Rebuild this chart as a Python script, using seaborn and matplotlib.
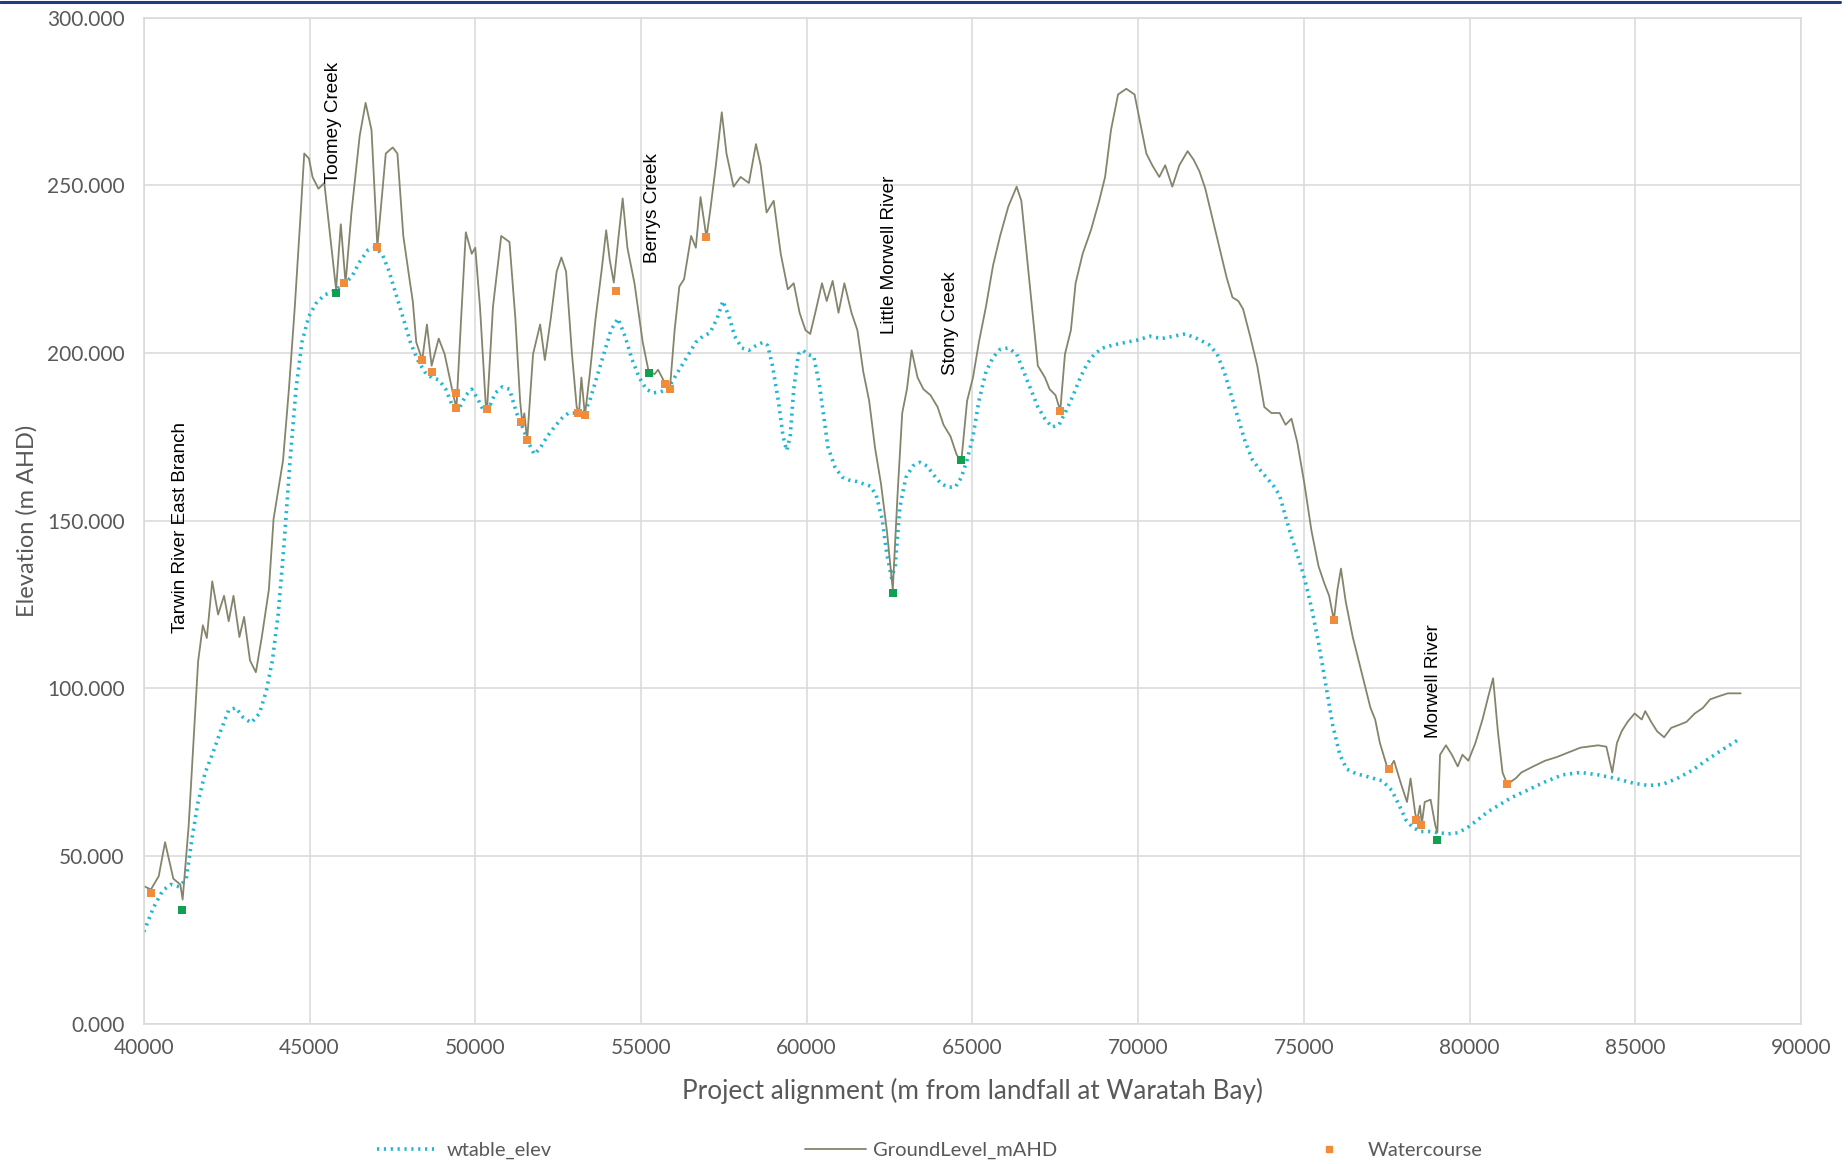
import numpy as np
import pandas as pd
import matplotlib
matplotlib.use("Agg")
import matplotlib.pyplot as plt
from matplotlib.lines import Line2D
import seaborn as sns

# Ground surface profile along the alignment (chainage m, elevation m AHD)
ground_chainage = [
    40000, 40213, 40450, 40640, 40890, 41100, 41170, 41352, 41637, 41780, 41900, 42064,
    42240, 42420, 42560, 42705, 42883, 43025, 43203, 43380, 43559, 43772, 43914, 44200,
    44377, 44555, 44733, 44840, 44982, 45089, 45267, 45445, 45623, 45800, 45943, 46086,
    46264, 46513, 46691, 46869, 47046, 47300, 47509, 47651, 47829, 48007, 48114, 48220,
    48399, 48541, 48683, 48897, 49075, 49324, 49431, 49573, 49715, 49893, 50000, 50142,
    50320, 50356, 50534, 50783, 51032, 51210, 51353, 51420, 51480, 51566, 51744, 51957,
    52100, 52278, 52456, 52598, 52740, 52918, 53060, 53130, 53202, 53309, 53452, 53630,
    53808, 53950, 54057, 54180, 54306, 54448, 54590, 54804, 55053, 55231, 55409, 55516,
    55730, 55872, 56015, 56157, 56300, 56513, 56655, 56797, 56975, 57082, 57260, 57438,
    57580, 57794, 58007, 58256, 58470, 58612, 58790, 59004, 59217, 59431, 59609, 59786,
    59964, 60107, 60285, 60462, 60605, 60783, 60960, 61138, 61352, 61530, 61708, 61886,
    62064, 62242, 62420, 62598, 62740, 62883, 63025, 63167, 63345, 63523, 63737, 63950,
    64128, 64341, 64520, 64662, 64840, 65018, 65196, 65409, 65623, 65836, 66085, 66335,
    66477, 66620, 66797, 66975, 67189, 67331, 67509, 67651, 67794, 67972, 68114, 68327,
    68576, 68826, 69004, 69182, 69395, 69644, 69893, 70071, 70249, 70427, 70640, 70818,
    71032, 71245, 71494, 71672, 71850, 72028, 72242, 72455, 72669, 72847, 73025, 73168,
    73381, 73595, 73808, 74022, 74271, 74449, 74627, 74805, 75018, 75231, 75445, 75623,
    75765, 75907, 76014, 76121, 76264, 76477, 76655, 76833, 77011, 77153, 77296, 77509,
    77580, 77722, 77936, 78114, 78221, 78363, 78420, 78505, 78560, 78648, 78826, 78968,
    79030, 79111, 79289, 79467, 79645, 79787, 79965, 80178, 80392, 80570, 80712, 80855,
    80997, 81139, 81388, 81566, 81922, 82278, 82634, 82990, 83346, 83880, 84129, 84307,
    84449, 84591, 84769, 84983, 85196, 85303, 85481, 85659, 85872, 86086, 86299, 86548,
    86797, 87046, 87260, 87545, 87794, 88185,
]
ground_level = [
    41.0, 40.0, 44.0, 54.1, 43.2, 41.5, 37.0, 59.0, 108.0, 118.8, 115.0, 131.9,
    122.0, 127.6, 120.0, 127.6, 115.3, 121.3, 108.3, 104.8, 115.3, 129.4, 150.5, 168.0,
    189.2, 213.8, 241.9, 259.5, 258.0, 252.5, 249.0, 250.7, 234.9, 219.0, 238.4, 220.8,
    241.9, 264.8, 274.6, 266.5, 231.7, 259.5, 261.3, 259.5, 234.9, 222.6, 215.5, 203.2,
    197.9, 208.5, 196.2, 204.3, 199.7, 188.1, 183.5, 210.3, 236.0, 229.6, 231.4, 213.8,
    183.9, 183.2, 213.8, 234.9, 233.1, 210.3, 185.7, 179.0, 182.0, 174.0, 199.7, 208.5,
    197.9, 210.3, 224.3, 228.5, 224.3, 199.7, 183.9, 182.0, 192.7, 181.4, 193.4, 210.3,
    224.3, 236.6, 227.8, 221.0, 233.1, 246.1, 231.4, 220.8, 203.2, 194.5, 193.7, 195.0,
    190.9, 189.2, 206.8, 219.8, 222.0, 234.9, 231.4, 246.5, 234.5, 241.9, 256.0, 271.8,
    259.5, 249.6, 252.5, 250.7, 262.3, 256.0, 241.9, 245.4, 229.6, 219.0, 220.8, 212.0,
    206.8, 205.7, 213.1, 220.8, 215.5, 221.5, 212.0, 220.8, 212.0, 206.8, 194.4, 185.7,
    171.6, 161.0, 147.0, 129.4, 157.5, 182.1, 189.2, 200.8, 192.7, 189.2, 187.4, 183.9,
    178.6, 175.1, 169.8, 167.4, 185.7, 192.7, 203.2, 213.8, 226.1, 234.9, 243.7, 249.6,
    245.4, 231.4, 213.8, 196.2, 192.7, 189.2, 187.4, 182.8, 199.7, 206.8, 220.8, 229.6,
    236.6, 245.4, 252.5, 266.5, 277.1, 278.8, 277.1, 268.3, 259.5, 256.0, 252.5, 256.0,
    249.6, 256.0, 260.2, 257.7, 254.2, 249.0, 240.2, 231.4, 222.6, 216.6, 215.5, 213.1,
    205.0, 196.2, 183.9, 182.1, 182.1, 178.6, 180.4, 173.3, 161.0, 147.0, 136.4, 131.2,
    127.6, 120.3, 129.4, 135.7, 125.9, 115.3, 108.3, 101.3, 94.2, 90.7, 83.7, 76.7,
    76.0, 78.4, 71.4, 66.1, 73.1, 62.6, 60.5, 65.0, 59.5, 66.1, 66.8, 59.1,
    57.0, 80.2, 83.0, 80.2, 76.7, 80.2, 78.4, 83.7, 90.7, 97.7, 103.0, 87.2,
    74.9, 71.4, 73.1, 74.9, 76.7, 78.4, 79.5, 80.9, 82.3, 83.0, 82.6, 74.9,
    83.7, 87.2, 90.0, 92.5, 90.7, 93.2, 90.0, 87.2, 85.4, 88.2, 89.0, 90.0,
    92.5, 94.2, 96.7, 97.7, 98.5, 98.5,
]

# Modelled water table elevation
wt_chainage = [
    40000, 40285, 40569, 40818, 41067, 41281, 41459, 41637, 41851, 42064, 42313, 42562,
    42776, 42990, 43238, 43488, 43701, 43879, 44057, 44235, 44413, 44591, 44769, 44982,
    45196, 45445, 45730, 46050, 46264, 46513, 46762, 46975, 47189, 47402, 47616, 47829,
    48043, 48256, 48470, 48683, 48897, 49110, 49324, 49537, 49715, 49893, 50071, 50249,
    50427, 50605, 50819, 51032, 51246, 51424, 51602, 51780, 51957, 52171, 52385, 52598,
    52812, 53025, 53239, 53452, 53666, 53879, 54093, 54306, 54519, 54733, 54947, 55160,
    55374, 55587, 55801, 56015, 56228, 56442, 56655, 56869, 57082, 57296, 57474, 57651,
    57829, 58043, 58256, 58470, 58683, 58826, 58968, 59146, 59288, 59395, 59502, 59609,
    59751, 59893, 60036, 60213, 60392, 60640, 60853, 61067, 61281, 61495, 61708, 61922,
    62100, 62278, 62420, 62563, 62669, 62812, 62990, 63203, 63416, 63630, 63844, 64057,
    64270, 64484, 64662, 64840, 65018, 65196, 65409, 65623, 65836, 66085, 66335, 66548,
    66762, 66975, 67189, 67402, 67616, 67829, 68043, 68256, 68470, 68683, 68932, 69288,
    69644, 70000, 70356, 70711, 71067, 71423, 71779, 72135, 72384, 72598, 72811, 73025,
    73239, 73452, 73666, 73879, 74093, 74271, 74449, 74627, 74805, 75018, 75231, 75445,
    75658, 75872, 76086, 76299, 76584, 76868, 77118, 77367, 77651, 77865, 78078, 78292,
    78541, 78790, 79075, 79360, 79645, 79930, 80214, 80570, 80926, 81281, 81744, 82278,
    82812, 83346, 83880, 84413, 84947, 85409, 85836, 86263, 86726, 87189, 87616, 88114,
]
wt_elev = [
    27.4, 34.5, 39.7, 41.5, 40.8, 43.2, 55.6, 66.1, 74.9, 80.2, 87.2, 93.5,
    94.2, 91.4, 89.7, 92.5, 99.5, 108.3, 122.4, 143.5, 168.1, 189.2, 203.2, 211.0,
    214.8, 217.3, 218.4, 220.8, 222.6, 227.2, 230.7, 231.4, 229.6, 224.3, 217.3, 210.3,
    203.2, 198.0, 194.4, 192.7, 192.0, 189.2, 183.9, 183.9, 187.4, 189.2, 186.4, 182.8,
    183.9, 188.1, 189.9, 189.2, 182.1, 177.9, 173.3, 169.8, 171.6, 175.1, 177.9, 180.4,
    182.1, 182.1, 181.4, 185.7, 192.7, 199.7, 206.8, 210.3, 205.0, 198.0, 192.7, 189.2,
    188.1, 188.4, 189.2, 192.7, 196.2, 199.7, 203.2, 205.0, 206.0, 210.3, 215.5, 211.0,
    205.0, 201.5, 200.8, 202.2, 203.2, 202.2, 196.2, 185.7, 175.1, 170.9, 175.1, 189.2,
    199.7, 200.8, 199.5, 199.0, 190.0, 172.0, 166.0, 163.0, 162.1, 161.7, 161.0, 160.3,
    157.5, 150.5, 139.9, 132.9, 136.4, 154.0, 162.8, 166.3, 167.4, 166.3, 163.5, 161.0,
    160.0, 160.0, 162.8, 168.1, 175.1, 185.7, 194.4, 198.7, 201.1, 201.5, 199.7, 194.4,
    189.2, 183.9, 180.4, 177.9, 178.6, 182.8, 187.4, 192.7, 196.9, 199.7, 201.5, 202.5,
    203.2, 203.9, 205.0, 204.3, 205.0, 205.7, 204.3, 202.5, 199.7, 194.4, 187.4, 180.4,
    173.3, 168.1, 165.3, 162.8, 160.3, 157.5, 151.2, 145.2, 139.9, 132.9, 124.1, 113.6,
    101.3, 89.0, 80.2, 75.9, 74.5, 73.8, 73.1, 72.4, 69.6, 65.4, 60.8, 58.4,
    57.3, 57.3, 56.9, 56.6, 56.9, 58.4, 60.5, 63.3, 65.4, 67.5, 69.6, 72.1,
    74.2, 74.9, 74.2, 73.1, 71.7, 71.0, 71.4, 73.1, 75.6, 78.8, 81.6, 84.7,
]

# Watercourse crossings
watercourse_chainage = [
    40213, 46050, 47046, 48399, 48683, 49431, 49431, 50356, 51388, 51566, 53096, 53309,
    54235, 55730, 55872, 56975, 67651, 75907, 77580, 78399, 78541, 81139,
]
watercourse_elev = [
    39.0, 220.8, 231.7, 197.9, 194.4, 188.1, 183.5, 183.2, 179.3, 174.0, 182.1, 181.4,
    218.4, 190.9, 189.2, 234.5, 182.8, 120.3, 75.9, 60.8, 59.1, 71.4,
]

# Named river crossings
river_names = [
    "Tarwin River East Branch", "Toomey Creek", "Berrys Creek",
    "Little Morwell River", "Stony Creek", "Morwell River",
]
river_chainage = [41140, 45800, 55231, 62598, 64662, 79004]
river_elev = [33.8, 218.0, 194.1, 128.3, 168.1, 54.9]
river_label_x = [41103, 45730, 55339, 62493, 64343, 78900]
river_label_y = [116.4, 250.7, 226.8, 205.7, 193.4, 85.1]

ground_df = pd.DataFrame({"chainage": ground_chainage, "elev": ground_level})
wt_df = pd.DataFrame({"chainage": wt_chainage, "elev": wt_elev})
wc_df = pd.DataFrame({"chainage": watercourse_chainage, "elev": watercourse_elev})
rv_df = pd.DataFrame({"chainage": river_chainage, "elev": river_elev})

sns.set_theme(style="white")
plt.rcParams["font.family"] = ["Lato", "DejaVu Sans"]

WT_COLOR = "#1DB6D3"
GROUND_COLOR = "#85846C"
WC_COLOR = "#F08C3C"
RIVER_COLOR = "#10A050"
GRID_COLOR = "#D9D9D9"
TEXT_COLOR = "#595959"

fig = plt.figure(figsize=(18.49, 11.64), dpi=100)
ax = fig.add_axes([0.0778, 0.1206, 0.974 - 0.0778, 0.9848 - 0.1206])

sns.lineplot(data=wt_df, x="chainage", y="elev", ax=ax, color=WT_COLOR,
             linewidth=2.6, linestyle=(0, (0.6, 1.3)), estimator=None,
             sort=False, label="wtable_elev", legend=False)
sns.lineplot(data=ground_df, x="chainage", y="elev", ax=ax, color=GROUND_COLOR,
             linewidth=1.3, estimator=None, sort=False,
             label="GroundLevel_mAHD", legend=False)
sns.scatterplot(data=wc_df, x="chainage", y="elev", ax=ax, color=WC_COLOR,
                marker="s", s=40, linewidth=0, zorder=4, legend=False)
sns.scatterplot(data=rv_df, x="chainage", y="elev", ax=ax, color=RIVER_COLOR,
                marker="s", s=40, linewidth=0, zorder=4, legend=False)

for name, lx, ly in zip(river_names, river_label_x, river_label_y):
    ax.text(lx, ly, name, rotation=90, ha="center", va="bottom",
            fontsize=13.6, color="black", family=["Liberation Sans", "DejaVu Sans"])

ax.set_xlim(40000, 90000)
ax.set_ylim(0, 300)
ax.set_xticks(np.arange(40000, 90001, 5000))
ax.set_yticks(np.arange(0, 301, 50))
ax.set_xticklabels([f"{v:d}" for v in range(40000, 90001, 5000)])
ax.set_yticklabels([f"{v:.3f}" for v in range(0, 301, 50)])
ax.tick_params(axis="both", labelsize=15, colors=TEXT_COLOR, length=0)
ax.tick_params(axis="y", pad=14)
ax.tick_params(axis="x", pad=10)
ax.grid(True, color=GRID_COLOR, linewidth=1.1)
ax.set_axisbelow(True)
for side in ["left", "bottom", "right", "top"]:
    ax.spines[side].set_color(GRID_COLOR)
    ax.spines[side].set_linewidth(1.1)

ax.set_xlabel("Project alignment (m from landfall at Waratah Bay)",
              fontsize=18.8, color=TEXT_COLOR)
ax.set_ylabel("Elevation (m AHD)", fontsize=17, color=TEXT_COLOR)
ax.xaxis.set_label_coords(0.5, -0.054)
ax.yaxis.set_label_coords(-0.064, 0.5)

# Legend entries spread along the bottom of the figure
leg_kw = dict(frameon=False, fontsize=14.5, labelcolor=TEXT_COLOR,
              borderpad=0, borderaxespad=0, loc="center left")
h_wt = Line2D([], [], color=WT_COLOR, linewidth=2.6, linestyle=(0, (0.6, 1.3)))
h_gr = Line2D([], [], color=GROUND_COLOR, linewidth=1.3)
h_wc = Line2D([], [], color=WC_COLOR, marker="s", markersize=5, linestyle="none")
fig.legend([h_wt], ["wtable_elev"], bbox_to_anchor=(0.204, 0.0115),
           handlelength=3.0, handletextpad=0.45, **leg_kw)
fig.legend([h_gr], ["GroundLevel_mAHD"], bbox_to_anchor=(0.4355, 0.0115),
           handlelength=3.0, handletextpad=0.35, **leg_kw)
fig.legend([h_wc], ["Watercourse"], bbox_to_anchor=(0.7135, 0.0115),
           handlelength=1.0, handletextpad=1.4, **leg_kw)

# Page rule above the chart
fig.add_artist(Line2D([0, 0.995], [0.9985, 0.9985], color="#1F3C88",
                      linewidth=2.2, transform=fig.transFigure))

fig.savefig("out.png", dpi=100)
